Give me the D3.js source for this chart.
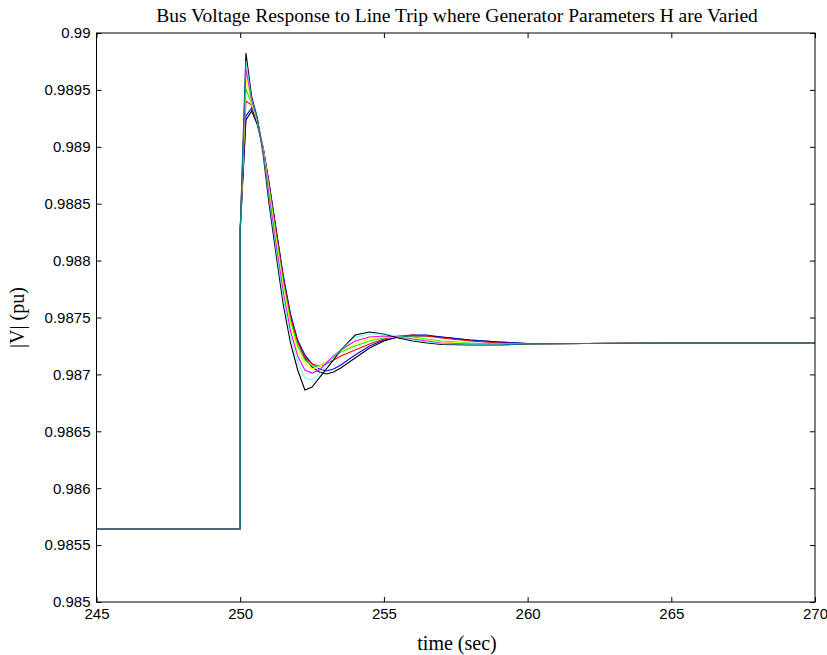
<!DOCTYPE html>
<html>
<head>
<meta charset="utf-8">
<script src="https://cdn.jsdelivr.net/npm/d3@7"></script>
<style>
  body { margin: 0; background: #fff; }
  svg { display: block; }
  .tick text { font-family: "Liberation Sans", Arial, sans-serif; font-size: 15px; fill: #000; }
  .lbl { font-family: "Liberation Serif", "Times New Roman", serif; fill: #000; }
</style>
</head>
<body>
<svg width="827" height="655"></svg>
<script>
// time axis (sec), shared by all runs
const time = [245, 250, 250, 250.2, 250.4, 250.6, 250.8, 251, 251.25, 251.5, 251.75,
  252, 252.25, 252.5, 252.75, 253, 253.25, 253.5, 254, 254.5, 255, 255.5, 256, 256.5,
  257, 258, 259, 260, 262, 265, 270];

// |V| (pu) for each H case
const runK2 = [0.985642, 0.985642, 0.988269, 0.989236, 0.989315, 0.989192, 0.988981, 0.988682, 0.988269, 0.987856,
  0.987513, 0.987285, 0.987144, 0.987065, 0.987021, 0.987004, 0.987021, 0.987056, 0.987144, 0.987232,
  0.987294, 0.987329, 0.987338, 0.987338, 0.987329, 0.987302, 0.987285, 0.987272, 0.987272, 0.987276, 0.987276];
const runB = [0.985642, 0.985642, 0.988269, 0.989271, 0.989341, 0.989200, 0.988990, 0.988691, 0.988278, 0.987865,
  0.987531, 0.987302, 0.987171, 0.987092, 0.987048, 0.987030, 0.987048, 0.987083, 0.987171, 0.987249,
  0.987302, 0.987329, 0.987346, 0.987346, 0.987329, 0.987302, 0.987285, 0.987272, 0.987272, 0.987276, 0.987276];
const runR = [0.985642, 0.985642, 0.988269, 0.989403, 0.989367, 0.989209, 0.988990, 0.988673, 0.988251, 0.987838,
  0.987505, 0.987285, 0.987153, 0.987092, 0.987074, 0.987092, 0.987127, 0.987162, 0.987214, 0.987267,
  0.987311, 0.987338, 0.987346, 0.987338, 0.987320, 0.987294, 0.987276, 0.987267, 0.987272, 0.987276, 0.987276];
const runG = [0.985642, 0.985642, 0.988269, 0.989508, 0.989376, 0.989218, 0.988981, 0.988647, 0.988216, 0.987803,
  0.987469, 0.987249, 0.987127, 0.987074, 0.987074, 0.987109, 0.987153, 0.987197, 0.987249, 0.987294,
  0.987320, 0.987329, 0.987329, 0.987311, 0.987294, 0.987276, 0.987267, 0.987267, 0.987272, 0.987276, 0.987276];
const runY = [0.985642, 0.985642, 0.988269, 0.989596, 0.989385, 0.989227, 0.988972, 0.988620, 0.988181, 0.987768,
  0.987434, 0.987206, 0.987092, 0.987048, 0.987065, 0.987109, 0.987162, 0.987206, 0.987267, 0.987311,
  0.987329, 0.987329, 0.987320, 0.987302, 0.987285, 0.987272, 0.987267, 0.987267, 0.987272, 0.987276, 0.987276];
const runM = [0.985642, 0.985642, 0.988269, 0.989684, 0.989403, 0.989236, 0.988963, 0.988585, 0.988137, 0.987724,
  0.987381, 0.987162, 0.987039, 0.987012, 0.987039, 0.987100, 0.987162, 0.987214, 0.987294, 0.987329,
  0.987338, 0.987329, 0.987311, 0.987294, 0.987276, 0.987267, 0.987267, 0.987267, 0.987272, 0.987276, 0.987276];
const runK1 = [0.985642, 0.985642, 0.988269, 0.989824, 0.989438, 0.989253, 0.988928, 0.988506, 0.988049, 0.987610,
  0.987276, 0.987039, 0.986863, 0.986889, 0.986969, 0.987048, 0.987127, 0.987214, 0.987346, 0.987373,
  0.987355, 0.987320, 0.987294, 0.987276, 0.987263, 0.987258, 0.987258, 0.987267, 0.987272, 0.987276, 0.987276];
const runC = [0.985642, 0.985642, 0.988269, 0.989754, 0.989420, 0.989244, 0.988946, 0.988550, 0.988093, 0.987671,
  0.987329, 0.987109, 0.986969, 0.986951, 0.987004, 0.987083, 0.987153, 0.987214, 0.987329, 0.987355,
  0.987355, 0.987338, 0.987302, 0.987285, 0.987272, 0.987263, 0.987263, 0.987267, 0.987272, 0.987276, 0.987276];

const runs = [runK2, runB, runR, runG, runY, runM, runK1, runC];
const runColors = ['#000000', '#0000ff', '#ff0000', '#00ff00', '#ffff00', '#ff00ff', '#000000', '#00ffff'];
// last (cyan) trace is see-through so the shared flat parts come out dark teal like the original
const runOpacity = [1, 1, 1, 1, 1, 1, 1, 0.55];

const xTicks = [245, 250, 255, 260, 265, 270];
const yTicks = [0.985, 0.9855, 0.986, 0.9865, 0.987, 0.9875, 0.988, 0.9885, 0.989, 0.9895, 0.99];
const yTickLabels = ['0.985', '0.9855', '0.986', '0.9865', '0.987', '0.9875', '0.988', '0.9885', '0.989', '0.9895', '0.99'];

const margin = {top: 33, right: 12, bottom: 53, left: 96.5};
const width = 827 - margin.left - margin.right;
const height = 655 - margin.top - margin.bottom;

const svg = d3.select('svg');
const g = svg.append('g')
    .attr('transform', `translate(${margin.left},${margin.top})`);

const x = d3.scaleLinear().domain([245, 270]).range([0, width]);
const y = d3.scaleLinear().domain([0.985, 0.99]).range([height, 0]);

const line = d3.line()
    .x((d, i) => x(time[i]))
    .y(d => y(d));

g.append('g')
  .selectAll('path')
  .data(runs)
  .enter()
  .append('path')
    .attr('d', line)
    .attr('fill', 'none')
    .attr('stroke', (d, i) => runColors[i])
    .attr('stroke-opacity', (d, i) => runOpacity[i])
    .attr('stroke-width', 1.1);

// axes with inward ticks, matlab-style box
g.append('g')
    .attr('transform', `translate(0,${height})`)
    .call(d3.axisBottom(x).tickValues(xTicks).tickSizeInner(-5).tickSizeOuter(0).tickPadding(6).tickFormat(d3.format('d')));
g.append('g')
    .call(d3.axisLeft(y).tickValues(yTicks).tickSizeInner(-5).tickSizeOuter(0).tickPadding(6)
      .tickFormat((d, i) => yTickLabels[i]));
g.append('g')
    .call(d3.axisTop(x).tickValues(xTicks).tickSizeInner(-5).tickSizeOuter(0).tickFormat(''));
g.append('g')
    .attr('transform', `translate(${width},0)`)
    .call(d3.axisRight(y).tickValues(yTicks).tickSizeInner(-5).tickSizeOuter(0).tickFormat(''));
g.selectAll('.domain').remove();
g.selectAll('.tick line').attr('stroke', '#000');

g.append('rect')
    .attr('width', width)
    .attr('height', height)
    .attr('fill', 'none')
    .attr('stroke', '#000')
    .attr('stroke-width', 1);

svg.append('text')
    .attr('class', 'lbl')
    .attr('x', 457)
    .attr('y', 22)
    .attr('text-anchor', 'middle')
    .style('font-size', '19.5px')
    .text('Bus Voltage Response to Line Trip where Generator Parameters H are Varied');

svg.append('text')
    .attr('class', 'lbl')
    .attr('x', 457)
    .attr('y', 650)
    .attr('text-anchor', 'middle')
    .style('font-size', '20px')
    .text('time (sec)');

svg.append('text')
    .attr('class', 'lbl')
    .attr('transform', `translate(24,${margin.top + height / 2}) rotate(-90)`)
    .attr('text-anchor', 'middle')
    .style('font-size', '20px')
    .text('|V| (pu)');
</script>
</body>
</html>
